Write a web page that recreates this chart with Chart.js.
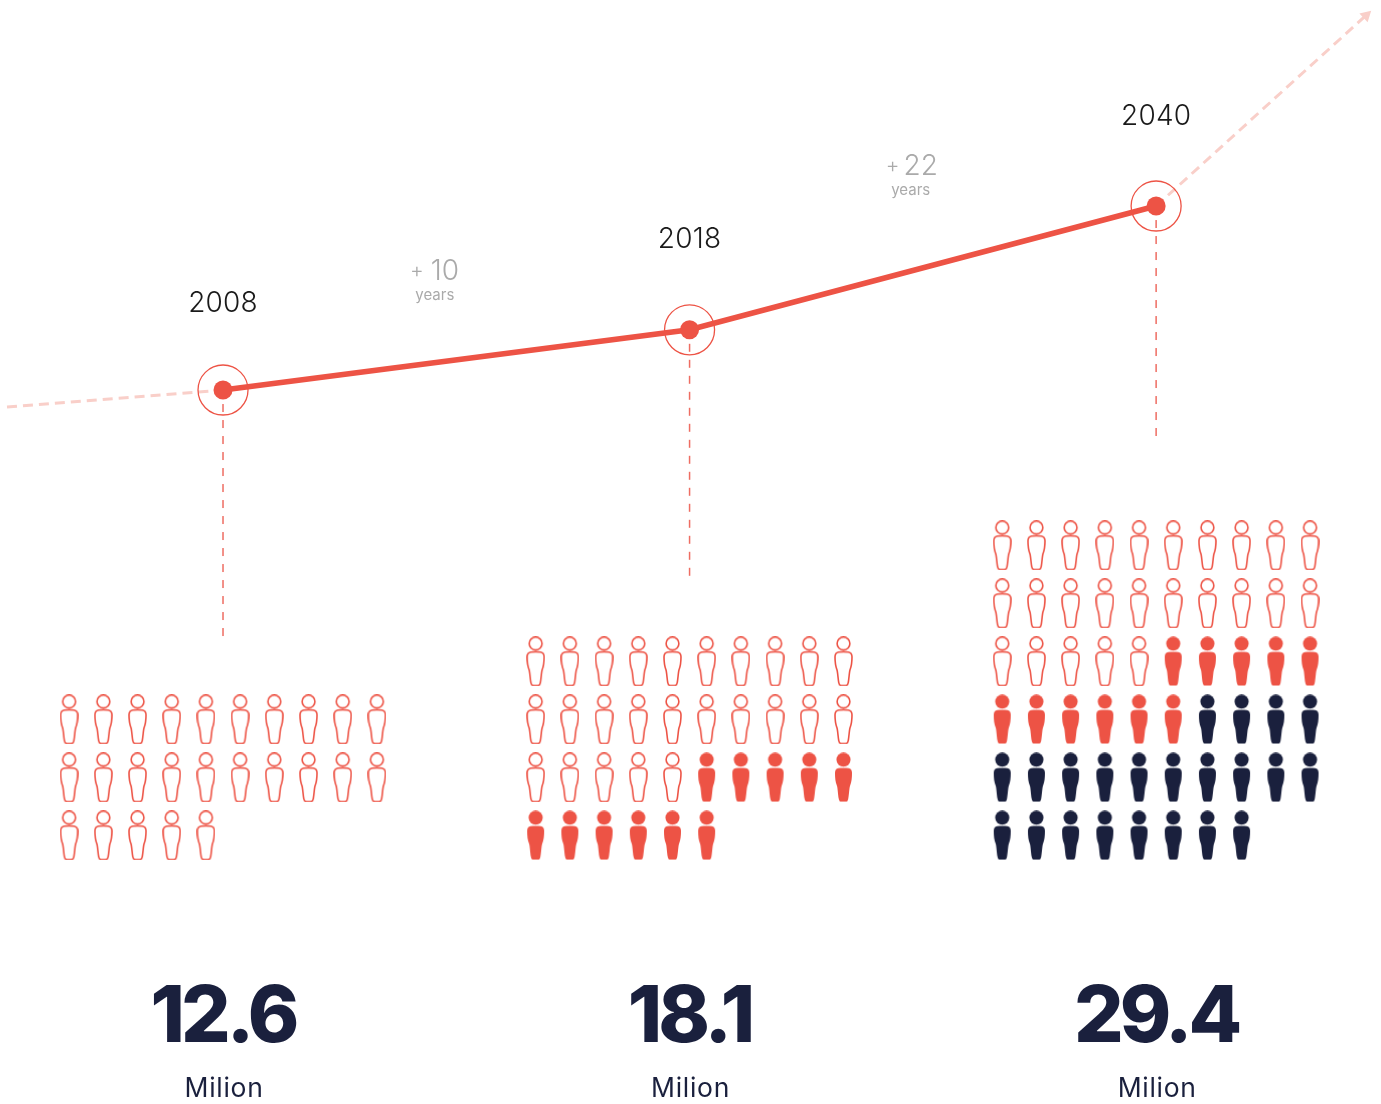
<!DOCTYPE html>
<html>
<head>
<meta charset="utf-8">
<title>Population</title>
<script src="https://cdn.jsdelivr.net/npm/chart.js@4"></script>
<style>
    html, body { margin: 0; padding: 0; background: #fff; }
    canvas { display: block; }
</style>
</head>
<body>
<canvas id="chart" width="1381" height="1104"></canvas>
<script>
// Data
const years = [2008, 2018, 2040];
const slots = [0, 1, 2];
const millions = [12.6, 18.1, 29.4];
const unitLabel = 'Milion';
const leaderEnds = [-10.2, -4.5, 8.4];
const pastTrendX = [-0.463, 0];
const pastTrendY = [11.05, 12.6];
const futureTrendX = [2, 2.45];
const futureTrendY = [29.4, 46.8];
const gapSlots = [0.454, 1.474];
const gapValues = [23.4, 33.0];
// people added per period, one icon each
const tierCounts = [25, 11, 22];

const RED = '#ed5345';
const NAVY = '#1a203d';
const PALE = '#f9cfc9';

// Person icon, drawn once and used as point style
const headPath = () => {
    const p = new Path2D();
    p.arc(9.5, 7.2, 6.4, 0, Math.PI * 2);
    return p;
};
const bodyPath = () => new Path2D('M4.5 15.8C7.5 15.3 11.5 15.3 14.5 15.8C17 16.3 18 18 18 20.5C18 25.5 17.6 29.5 16 33.5C15.3 35.5 15 42.5 14.2 46.5C13.9 48.5 13 49.3 11.5 49.3L7.5 49.3C6 49.3 5.1 48.5 4.8 46.5C4 42.5 3.7 35.5 3 33.5C1.4 29.5 1 25.5 1 20.5C1 18 2 16.3 4.5 15.8Z');

function makePerson(color, filled) {
    const c = document.createElement('canvas');
    c.width = 19;
    c.height = 50;
    const g = c.getContext('2d');
    if (filled) {
        g.fillStyle = color;
        g.beginPath();
        g.arc(9.5, 7.2, 7, 0, Math.PI * 2);
        g.fill();
        g.fill(bodyPath());
    } else {
        g.strokeStyle = color;
        g.lineWidth = 1.6;
        g.stroke(headPath());
        g.stroke(bodyPath());
    }
    return c;
}

// Place icons column by column, filling rows from the top of each block
function tierPoints(tier) {
    const points = [];
    slots.forEach((slot, period) => {
        if (period < tier) return;
        const total = tierCounts.slice(0, period + 1).reduce((a, b) => a + b, 0);
        const rows = Math.ceil(total / 10);
        const start = tierCounts.slice(0, tier).reduce((a, b) => a + b, 0);
        for (let i = start; i < start + tierCounts[tier]; i++) {
            points.push({
                x: slot + ((i % 10) - 4.5) * 0.0733,
                y: rows - 1 - Math.floor(i / 10)
            });
        }
    });
    return points;
}

const zip = (xs, ys) => xs.map((x, i) => ({ x: x, y: ys[i] }));

const personDataset = (tier, image) => ({
    type: 'scatter',
    data: tierPoints(tier),
    yAxisID: 'yRows',
    pointStyle: image,
    pointRadius: 10,
    showLine: false
});

const leaderDatasets = slots.map((slot, i) => ({
    type: 'line',
    data: zip([slot, slot], [millions[i] - 1.28, leaderEnds[i]]),
    borderColor: '#ee6d62',
    borderWidth: 1.5,
    borderDash: [8, 8],
    pointRadius: 0
}));

// Text on top of the marks
const textPlugin = {
    id: 'texts',
    afterDatasetsDraw(chart) {
        const ctx = chart.ctx;
        const xs = chart.scales.x;
        const ys = chart.scales.y;
        const yearOffsets = [86, 90, 89];
        ctx.save();
        ctx.textAlign = 'center';
        ctx.textBaseline = 'middle';

        years.forEach((year, i) => {
            const x = xs.getPixelForValue(slots[i]);
            ctx.font = '300 28px Inter';
            ctx.letterSpacing = '0.2px';
            ctx.fillStyle = '#1a1a1a';
            ctx.fillText(String(year), x, ys.getPixelForValue(millions[i]) - yearOffsets[i]);

            ctx.font = '800 78px Inter';
            ctx.letterSpacing = '-4px';
            ctx.fillStyle = NAVY;
            ctx.fillText(millions[i].toFixed(1), x, 1019);

            ctx.font = '400 26.5px Inter';
            ctx.letterSpacing = '0.7px';
            ctx.fillText(unitLabel, x + 1, 1089);
            ctx.letterSpacing = '0px';
        });

        gapSlots.forEach((slot, i) => {
            const x = xs.getPixelForValue(slot);
            const y = ys.getPixelForValue(gapValues[i]);
            ctx.fillStyle = '#aaaaaa';
            ctx.font = '300 21px Inter';
            ctx.fillText('+', x - 18, y - 1);
            ctx.font = '300 28px Inter';
            ctx.fillText(String(years[i + 1] - years[i]), x + 10, y);
            ctx.font = '400 15px Inter';
            ctx.fillText('years', x, y + 24);
        });
        ctx.restore();
    }
};

new Chart(document.getElementById('chart').getContext('2d'), {
    data: {
        datasets: [
            {
                // centre dots
                type: 'line',
                data: zip(slots, millions),
                borderColor: RED,
                borderWidth: 5.5,
                pointRadius: 9.5,
                pointBackgroundColor: RED,
                pointBorderWidth: 0,
                tension: 0
            },
            {
                // rings around the dots
                type: 'scatter',
                data: zip(slots, millions),
                pointRadius: 25,
                pointBackgroundColor: 'transparent',
                pointBorderColor: RED,
                pointBorderWidth: 1.3,
                showLine: false
            },
            {
                // arrow head
                type: 'scatter',
                data: zip(futureTrendX.slice(1), futureTrendY.slice(1)),
                pointStyle: 'triangle',
                pointRotation: 47,
                pointRadius: 7,
                pointBackgroundColor: PALE,
                pointBorderWidth: 0,
                showLine: false
            },
            {
                type: 'line',
                data: zip(pastTrendX, pastTrendY),
                borderColor: PALE,
                borderWidth: 3,
                borderDash: [10, 6],
                pointRadius: 0
            },
            {
                type: 'line',
                data: zip(futureTrendX, futureTrendY),
                borderColor: PALE,
                borderWidth: 3,
                borderDash: [10, 6],
                pointRadius: 0
            },
            ...leaderDatasets,
            personDataset(0, makePerson(RED, false)),
            personDataset(1, makePerson(RED, true)),
            personDataset(2, makePerson(NAVY, true))
        ]
    },
    options: {
        responsive: false,
        animation: false,
        layout: { padding: 0, autoPadding: false },
        plugins: {
            legend: { display: false },
            tooltip: { enabled: false }
        },
        scales: {
            x: { type: 'linear', display: false, min: -0.478, max: 2.482 },
            y: { type: 'linear', display: false, min: -52.59, max: 48.21 },
            yRows: { type: 'linear', axis: 'y', display: false, min: -4.63, max: 14.40 }
        }
    },
    plugins: [textPlugin]
});
</script>
</body>
</html>
